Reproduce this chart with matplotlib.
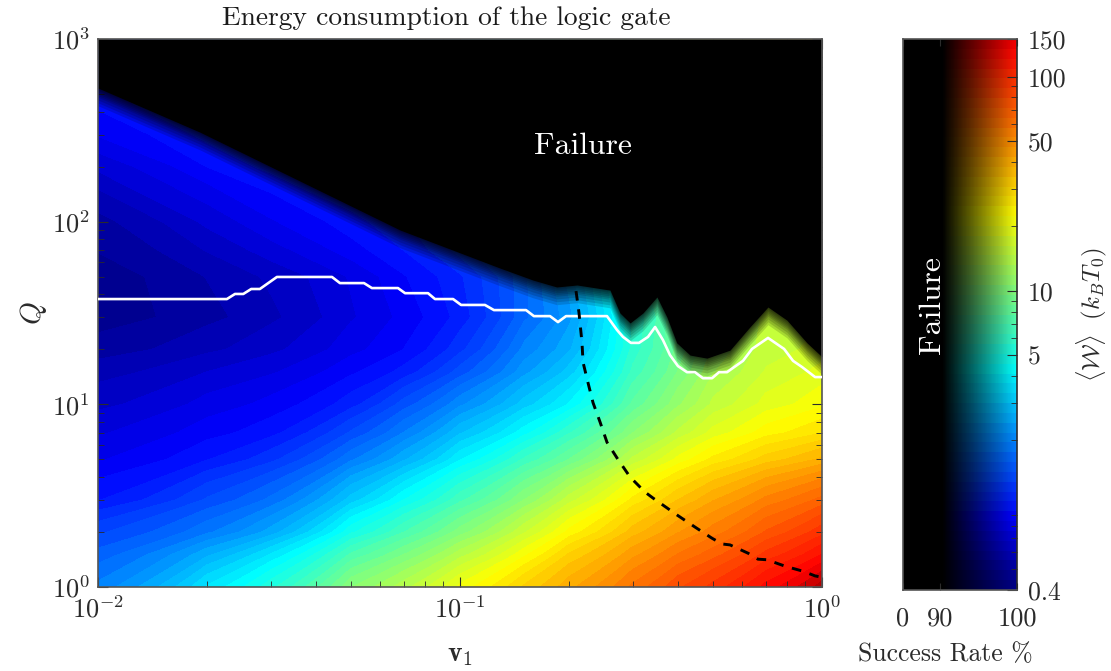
import numpy as np
import matplotlib
matplotlib.use("Agg")
import matplotlib.pyplot as plt
from matplotlib.colors import LinearSegmentedColormap, LogNorm
from matplotlib.ticker import LogLocator, NullFormatter

plt.rcParams['font.family'] = ['cmr10', 'DejaVu Serif']
plt.rcParams['mathtext.fontset'] = 'cm'
plt.rcParams['axes.unicode_minus'] = False
plt.rcParams['axes.formatter.use_mathtext'] = True

# energy table
v_grid = [0.01, 0.02, 0.03, 0.05, 0.07, 0.1, 0.15, 0.2, 0.3, 0.4, 0.5, 0.7, 1.0]
q_grid = [1, 1.5, 2, 3, 5, 7, 10, 15, 20, 30, 50, 70, 100, 200, 300, 500, 1000]
energy = [
    [1.9, 3.6, 5.3, 10.5, 14, 21, 32, 42, 62, 82, 97, 135, 190],
    [1.55, 2.5, 3.6, 7, 9.5, 14, 22, 32, 47, 61, 72, 97, 130],
    [1.3, 1.8, 2.4, 4.8, 6.8, 10, 16, 23.5, 37, 48, 57, 76, 100],
    [0.95, 1.35, 1.7, 3, 4.4, 6.6, 10.5, 15.5, 26, 35, 43, 56, 70],
    [0.76, 0.95, 1.15, 1.8, 2.5, 3.9, 6.2, 8.5, 15, 21, 26, 33, 40],
    [0.68, 0.82, 0.92, 1.35, 1.85, 2.8, 4.2, 6, 10.5, 15, 19, 24, 28],
    [0.6, 0.72, 0.8, 1.02, 1.4, 2.0, 3.0, 4.0, 7.8, 11.5, 15, 19, 22],
    [0.53, 0.62, 0.68, 0.84, 1.0, 1.4, 2.2, 3.0, 6.3, 9.5, 13, 16.5, 19],
    [0.47, 0.54, 0.6, 0.74, 0.86, 1.15, 1.9, 2.5, 5.7, 8.8, 12, 15.5, 17],
    [0.42, 0.48, 0.54, 0.68, 0.8, 1.0, 1.6, 2.2, 5.5, 8.5, 12, 15, 16],
    [0.42, 0.5, 0.57, 0.7, 0.85, 1.05, 1.6, 2.4, 6, 10, 13, 16, 18],
    [0.45, 0.56, 0.66, 0.82, 0.96, 1.25, 2.0, 3, 7, 11, 14, 17, 20],
    [0.48, 0.64, 0.76, 0.92, 1.05, 1.4, 2.4, 4, 8, 12, 15, 18, 22],
    [0.64, 0.86, 1.0, 1.2, 1.4, 1.8, 3, 5, 9, 13, 16, 20, 25],
    [0.78, 1.0, 1.2, 1.4, 1.7, 2.2, 3.5, 6, 10, 14, 17, 21, 26],
    [0.93, 1.2, 1.4, 1.7, 2.0, 2.5, 4, 7, 11, 15, 18, 22, 27],
    [1.2, 1.5, 1.8, 2.1, 2.5, 3.0, 5, 8, 12, 16, 19, 23, 28],
]

# upper edge of the working region
edge_v = [0.01, 0.01913, 0.0361, 0.0683, 0.129, 0.159, 0.185, 0.2106, 0.2596, 0.2767, 0.295,
          0.320, 0.350, 0.373, 0.397, 0.432, 0.481, 0.557, 0.632, 0.709, 0.80, 0.909, 1.0]
edge_q = [539, 309, 167, 90, 55.7, 47.9, 43.9, 45, 42.2, 31.6, 27.9,
          31.6, 38.7, 30, 21.7, 18.6, 17.9, 19.8, 26.5, 34.1, 28.9, 21.7, 18.2]

# white line
white_v = [0.01, 0.0227, 0.0239, 0.0252, 0.0265, 0.0280, 0.0312, 0.0443, 0.0466, 0.0543, 0.0571,
           0.0674, 0.0705, 0.0816, 0.0853, 0.0957, 0.1007, 0.1172, 0.1241, 0.1522, 0.160, 0.1773,
           0.1865, 0.1963, 0.2547, 0.2716, 0.2820, 0.2966, 0.3122, 0.3306, 0.3459, 0.3636, 0.3803,
           0.400, 0.4237, 0.4456, 0.469, 0.4969, 0.5195, 0.5465, 0.6050, 0.6407, 0.7095, 0.7857,
           0.8318, 0.881, 0.9572, 1.0]
white_q = [37.7, 37.7, 40.2, 40.2, 42.8, 42.8, 49.8, 49.8, 46.1, 46.1, 43.3,
           43.3, 40.6, 40.6, 37.7, 37.7, 35.0, 35.0, 32.8, 32.8, 30.4, 30.4,
           28.2, 30.4, 30.4, 25.5, 23.4, 21.7, 21.7, 23.4, 26.5, 22.5, 18.6,
           16.2, 15.0, 15.0, 13.9, 13.9, 15.0, 15.0, 17.3, 20.1, 23.1, 20.1,
           17.3, 16.0, 14.1, 14.1]

# dashed line
dash_v = [0.2092, 0.2132, 0.2173, 0.2187, 0.2258, 0.2331, 0.2437, 0.2547, 0.2716, 0.295, 0.3243,
          0.3412, 0.3975, 0.4456, 0.4966, 0.5297, 0.5572, 0.6252, 0.6653, 0.7047, 0.7905, 0.8861,
          0.957, 1.0]
dash_q = [41.7, 31.6, 21.7, 17.0, 13.1, 10.2, 8.0, 6.2, 5.08, 4.0, 3.31,
          3.07, 2.48, 2.13, 1.85, 1.72, 1.70, 1.53, 1.42, 1.41, 1.30, 1.22,
          1.15, 1.13]

bar_ticks = [0.4, 5, 10, 50, 100, 150]
rate_ticks = ['0', '90', '100']

W, H = 1111, 671
dark = '#2b2b2b'
edge = '#555555'

cmap = LinearSegmentedColormap.from_list('trunc_jet', [
    (0.0, (0, 0, 0.5)), (0.124, (0, 0, 1)), (0.381, (0, 1, 1)),
    (0.649, (1, 1, 0)), (0.94, (1, 0, 0)), (1.0, (0.6, 0, 0))])
norm = LogNorm(0.4, 200)

fig = plt.figure(figsize=(W / 100, H / 100), dpi=100)
ax = fig.add_axes([98 / W, 1 - 587 / H, 724 / W, 548 / H])

levels = np.linspace(np.log10(0.4), np.log10(200), 58)
ax.contourf(v_grid, q_grid, np.log10(energy), levels=levels, extend='both',
            colors=[cmap(i / 58) for i in range(59)], antialiased=False)

# soft edge of the failure region
for factor in [0.80, 0.83, 0.86, 0.89, 0.91, 0.93, 0.95, 0.97, 0.985]:
    ax.fill_between(edge_v, np.array(edge_q) * factor, 1000, color='k', alpha=0.15, lw=0, zorder=2)
ax.fill_between(edge_v, edge_q, 1000, color='k', lw=0, zorder=2)

ax.plot(white_v, white_q, color='w', lw=1.9, zorder=3)
ax.plot(dash_v, dash_q, color='k', lw=2.1, dashes=(3.3, 3), zorder=3)

ax.set_xscale('log')
ax.set_yscale('log')
ax.set_xlim(0.01, 1)
ax.set_ylim(1, 1000)
ax.tick_params(which='both', direction='in', top=True, right=True, color=dark, labelcolor=dark)
ax.tick_params(which='major', length=7, labelsize=19, pad=6)
ax.tick_params(which='minor', length=4)
for s in ax.spines.values():
    s.set_color(edge)
    s.set_linewidth(1.2)

fig.text(446 / W, 1 - 18 / H, 'Energy consumption of the logic gate', fontsize=19.8,
         ha='center', va='center', color='#1a1a1a')
ax.set_xlabel(r'$\mathbf{v}_1$', fontsize=20, color=dark, labelpad=14)
ax.set_ylabel(r'$Q$', fontsize=21, color=dark, labelpad=2)
ax.text(0.2187, 259, 'Failure', color='w', fontsize=22.8, ha='center', va='center', zorder=4)

# colour bar: energy upwards, success rate sideways
cax = fig.add_axes([903 / W, 1 - 590 / H, 114 / W, 551 / H])
bar_edges = np.geomspace(0.4, 150, 57)
bar_mid = np.sqrt(bar_edges[:-1] * bar_edges[1:])
x_edges = np.linspace(0, 1, 201)
x_mid = (x_edges[:-1] + x_edges[1:]) / 2
fade = np.clip((x_mid - 0.35) / 0.65, 0, 1)
rgb = cmap(norm(bar_mid))[:, :3]
image = rgb[:, None, :] * fade[None, :, None]
cax.pcolormesh(x_edges, bar_edges, image, shading='flat')
cax.set_yscale('log')
cax.set_xlim(0, 1)
cax.set_ylim(0.4, 150)
cax.yaxis.tick_right()
cax.set_yticks(bar_ticks, [str(t) for t in bar_ticks])
cax.yaxis.set_minor_locator(LogLocator(base=10, subs=range(2, 10), numticks=12))
cax.yaxis.set_minor_formatter(NullFormatter())
cax.set_xticks([0, 0.325, 1], rate_ticks)
cax.tick_params(which='both', direction='in', color=dark, labelcolor=dark)
cax.tick_params(axis='x', top=True, length=5, labelsize=19, pad=12)
cax.tick_params(axis='y', which='major', length=7, labelsize=18.5, pad=8)
cax.tick_params(axis='y', which='minor', length=4)
for s in cax.spines.values():
    s.set_color(edge)
    s.set_linewidth(1.2)
cax.spines['right'].set_color(dark)
cax.text(0.254, 8.6, 'Failure', color='w', fontsize=22.8, rotation=90, ha='center', va='center')
fig.text(945 / W, 1 - 654 / H, 'Success Rate %', fontsize=18.5, ha='center', va='center', color=dark)
fig.text(1092 / W, 1 - 315 / H, r'$\langle\mathcal{W}\rangle\ \ (k_BT_0)$', fontsize=18, rotation=90,
         ha='center', va='center', color=dark)

fig.savefig('out.png', dpi=100)
